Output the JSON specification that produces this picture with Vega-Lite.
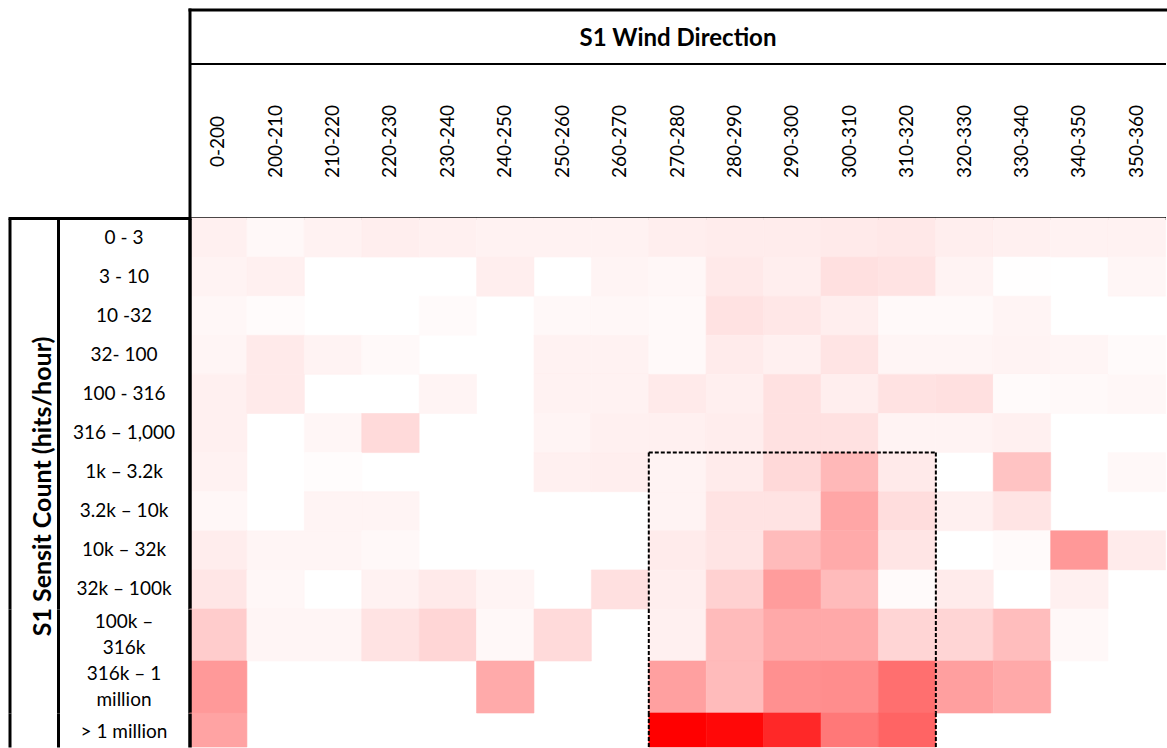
{
  "$schema": "https://vega.github.io/schema/vega-lite/v6.json",
  "background": "white",
  "padding": {"left": 6.5, "top": 7, "right": 0, "bottom": 0},
  "spacing": 0,
  "bounds": "flush",
  "config": {"font": "Lato", "view": {"stroke": null}, "axis": {"grid": false}},
  "datasets": {
    "top": [
      {"dir":"0-200","cnt":"0 - 3","pct":5.9},{"dir":"200-210","cnt":"0 - 3","pct":2.7},{"dir":"210-220","cnt":"0 - 3","pct":5.1},{"dir":"220-230","cnt":"0 - 3","pct":6.7},{"dir":"230-240","cnt":"0 - 3","pct":5.9},{"dir":"240-250","cnt":"0 - 3","pct":5.1},{"dir":"250-260","cnt":"0 - 3","pct":5.1},{"dir":"260-270","cnt":"0 - 3","pct":5.1},{"dir":"270-280","cnt":"0 - 3","pct":6.7},{"dir":"280-290","cnt":"0 - 3","pct":7.5},{"dir":"290-300","cnt":"0 - 3","pct":7.5},{"dir":"300-310","cnt":"0 - 3","pct":8.2},{"dir":"310-320","cnt":"0 - 3","pct":9.0},{"dir":"320-330","cnt":"0 - 3","pct":6.7},{"dir":"330-340","cnt":"0 - 3","pct":5.9},{"dir":"340-350","cnt":"0 - 3","pct":5.1},{"dir":"350-360","cnt":"0 - 3","pct":5.1},
      {"dir":"0-200","cnt":"3 - 10","pct":4.7},{"dir":"200-210","cnt":"3 - 10","pct":5.9},{"dir":"240-250","cnt":"3 - 10","pct":6.7},{"dir":"260-270","cnt":"3 - 10","pct":4.3},{"dir":"270-280","cnt":"3 - 10","pct":3.1},{"dir":"280-290","cnt":"3 - 10","pct":8.6},{"dir":"290-300","cnt":"3 - 10","pct":6.7},{"dir":"300-310","cnt":"3 - 10","pct":12.2},{"dir":"310-320","cnt":"3 - 10","pct":11.0},{"dir":"320-330","cnt":"3 - 10","pct":4.7},{"dir":"330-340","cnt":"3 - 10","pct":0.5},{"dir":"350-360","cnt":"3 - 10","pct":3.5},
      {"dir":"0-200","cnt":"10 -32","pct":3.1},{"dir":"200-210","cnt":"10 -32","pct":1.6},{"dir":"230-240","cnt":"10 -32","pct":2.0},{"dir":"250-260","cnt":"10 -32","pct":2.7},{"dir":"260-270","cnt":"10 -32","pct":3.1},{"dir":"270-280","cnt":"10 -32","pct":2.4},{"dir":"280-290","cnt":"10 -32","pct":11.4},{"dir":"290-300","cnt":"10 -32","pct":9.4},{"dir":"300-310","cnt":"10 -32","pct":6.7},{"dir":"310-320","cnt":"10 -32","pct":2.4},{"dir":"320-330","cnt":"10 -32","pct":2.4},{"dir":"330-340","cnt":"10 -32","pct":4.3},
      {"dir":"0-200","cnt":"32- 100","pct":3.9},{"dir":"200-210","cnt":"32- 100","pct":8.2},{"dir":"210-220","cnt":"32- 100","pct":4.7},{"dir":"220-230","cnt":"32- 100","pct":2.4},{"dir":"250-260","cnt":"32- 100","pct":5.1},{"dir":"260-270","cnt":"32- 100","pct":5.1},{"dir":"270-280","cnt":"32- 100","pct":2.4},{"dir":"280-290","cnt":"32- 100","pct":7.8},{"dir":"290-300","cnt":"32- 100","pct":5.9},{"dir":"300-310","cnt":"32- 100","pct":10.6},{"dir":"310-320","cnt":"32- 100","pct":3.9},{"dir":"320-330","cnt":"32- 100","pct":3.9},{"dir":"330-340","cnt":"32- 100","pct":4.7},{"dir":"340-350","cnt":"32- 100","pct":3.9},{"dir":"350-360","cnt":"32- 100","pct":2.0},
      {"dir":"0-200","cnt":"100 - 316","pct":5.9},{"dir":"200-210","cnt":"100 - 316","pct":8.2},{"dir":"230-240","cnt":"100 - 316","pct":4.3},{"dir":"250-260","cnt":"100 - 316","pct":5.1},{"dir":"260-270","cnt":"100 - 316","pct":5.1},{"dir":"270-280","cnt":"100 - 316","pct":8.2},{"dir":"280-290","cnt":"100 - 316","pct":6.3},{"dir":"290-300","cnt":"100 - 316","pct":11.8},{"dir":"300-310","cnt":"100 - 316","pct":6.7},{"dir":"310-320","cnt":"100 - 316","pct":11.4},{"dir":"320-330","cnt":"100 - 316","pct":12.2},{"dir":"330-340","cnt":"100 - 316","pct":2.0},{"dir":"340-350","cnt":"100 - 316","pct":2.4},{"dir":"350-360","cnt":"100 - 316","pct":3.1},
      {"dir":"0-200","cnt":"316 – 1,000","pct":5.9},{"dir":"210-220","cnt":"316 – 1,000","pct":3.5},{"dir":"220-230","cnt":"316 – 1,000","pct":14.5},{"dir":"250-260","cnt":"316 – 1,000","pct":4.3},{"dir":"260-270","cnt":"316 – 1,000","pct":5.9},{"dir":"270-280","cnt":"316 – 1,000","pct":5.9},{"dir":"280-290","cnt":"316 – 1,000","pct":7.1},{"dir":"290-300","cnt":"316 – 1,000","pct":11.8},{"dir":"300-310","cnt":"316 – 1,000","pct":11.8},{"dir":"310-320","cnt":"316 – 1,000","pct":4.7},{"dir":"320-330","cnt":"316 – 1,000","pct":4.7},{"dir":"330-340","cnt":"316 – 1,000","pct":5.9},
      {"dir":"0-200","cnt":"1k – 3.2k","pct":5.1},{"dir":"210-220","cnt":"1k – 3.2k","pct":1.2},{"dir":"250-260","cnt":"1k – 3.2k","pct":5.9},{"dir":"260-270","cnt":"1k – 3.2k","pct":6.7},{"dir":"270-280","cnt":"1k – 3.2k","pct":4.7},{"dir":"280-290","cnt":"1k – 3.2k","pct":7.8},{"dir":"290-300","cnt":"1k – 3.2k","pct":14.9},{"dir":"300-310","cnt":"1k – 3.2k","pct":27.8},{"dir":"310-320","cnt":"1k – 3.2k","pct":8.2},{"dir":"330-340","cnt":"1k – 3.2k","pct":23.5},{"dir":"350-360","cnt":"1k – 3.2k","pct":2.7},
      {"dir":"0-200","cnt":"3.2k – 10k","pct":3.1},{"dir":"210-220","cnt":"3.2k – 10k","pct":4.3},{"dir":"220-230","cnt":"3.2k – 10k","pct":4.3},{"dir":"270-280","cnt":"3.2k – 10k","pct":4.7},{"dir":"280-290","cnt":"3.2k – 10k","pct":11.0},{"dir":"290-300","cnt":"3.2k – 10k","pct":11.0},{"dir":"300-310","cnt":"3.2k – 10k","pct":34.9},{"dir":"310-320","cnt":"3.2k – 10k","pct":13.3},{"dir":"320-330","cnt":"3.2k – 10k","pct":5.9},{"dir":"330-340","cnt":"3.2k – 10k","pct":10.6},
      {"dir":"0-200","cnt":"10k – 32k","pct":7.1},{"dir":"200-210","cnt":"10k – 32k","pct":3.9},{"dir":"210-220","cnt":"10k – 32k","pct":3.9},{"dir":"220-230","cnt":"10k – 32k","pct":2.7},{"dir":"270-280","cnt":"10k – 32k","pct":7.8},{"dir":"280-290","cnt":"10k – 32k","pct":10.6},{"dir":"290-300","cnt":"10k – 32k","pct":26.7},{"dir":"300-310","cnt":"10k – 32k","pct":33.3},{"dir":"310-320","cnt":"10k – 32k","pct":10.2},{"dir":"330-340","cnt":"10k – 32k","pct":2.0},{"dir":"340-350","cnt":"10k – 32k","pct":40.4},{"dir":"350-360","cnt":"10k – 32k","pct":7.8},
      {"dir":"0-200","cnt":"32k – 100k","pct":9.8},{"dir":"200-210","cnt":"32k – 100k","pct":3.1},{"dir":"220-230","cnt":"32k – 100k","pct":5.1},{"dir":"230-240","cnt":"32k – 100k","pct":8.2},{"dir":"240-250","cnt":"32k – 100k","pct":4.3},{"dir":"260-270","cnt":"32k – 100k","pct":12.2},{"dir":"270-280","cnt":"32k – 100k","pct":6.7},{"dir":"280-290","cnt":"32k – 100k","pct":18.0},{"dir":"290-300","cnt":"32k – 100k","pct":38.8},{"dir":"300-310","cnt":"32k – 100k","pct":26.7},{"dir":"310-320","cnt":"32k – 100k","pct":2.0},{"dir":"320-330","cnt":"32k – 100k","pct":7.8},{"dir":"340-350","cnt":"32k – 100k","pct":5.9}
    ],
    "mid": [
      {"dir":"0-200","cnt":"100k – 316k","pct":20.0},{"dir":"200-210","cnt":"100k – 316k","pct":3.9},{"dir":"210-220","cnt":"100k – 316k","pct":3.9},{"dir":"220-230","cnt":"100k – 316k","pct":11.0},{"dir":"230-240","cnt":"100k – 316k","pct":16.1},{"dir":"240-250","cnt":"100k – 316k","pct":2.7},{"dir":"250-260","cnt":"100k – 316k","pct":14.5},{"dir":"270-280","cnt":"100k – 316k","pct":5.9},{"dir":"280-290","cnt":"100k – 316k","pct":26.7},{"dir":"290-300","cnt":"100k – 316k","pct":33.7},{"dir":"300-310","cnt":"100k – 316k","pct":33.7},{"dir":"310-320","cnt":"100k – 316k","pct":16.5},{"dir":"320-330","cnt":"100k – 316k","pct":16.5},{"dir":"330-340","cnt":"100k – 316k","pct":25.9},{"dir":"340-350","cnt":"100k – 316k","pct":2.7},
      {"dir":"0-200","cnt":"316k – 1 million","pct":40.0},{"dir":"240-250","cnt":"316k – 1 million","pct":33.3},{"dir":"270-280","cnt":"316k – 1 million","pct":37.3},{"dir":"280-290","cnt":"316k – 1 million","pct":26.7},{"dir":"290-300","cnt":"316k – 1 million","pct":43.5},{"dir":"300-310","cnt":"316k – 1 million","pct":44.7},{"dir":"310-320","cnt":"316k – 1 million","pct":56.5},{"dir":"320-330","cnt":"316k – 1 million","pct":37.6},{"dir":"330-340","cnt":"316k – 1 million","pct":33.7}
    ],
    "bot": [
      {"dir":"0-200","cnt":"> 1 million","pct":36.0},{"dir":"270-280","cnt":"> 1 million","pct":100},{"dir":"280-290","cnt":"> 1 million","pct":96.9},{"dir":"290-300","cnt":"> 1 million","pct":84.3},{"dir":"300-310","cnt":"> 1 million","pct":52.9},{"dir":"310-320","cnt":"> 1 million","pct":60.8}
    ],
    "boxtop": [{"from":"270-280","to":"320-330","row":"1k – 3.2k"}],
    "boxsides": [{"edge":"270-280","from":"1k – 3.2k","to":"32k – 100k"},{"edge":"320-330","from":"1k – 3.2k","to":"32k – 100k"}],
    "edges": [{"edge":"270-280"},{"edge":"320-330"}]
  },
  "vconcat": [
    {
      "width": 976, "height": 391,
      "resolve": {"axis": {"x": "independent", "y": "independent"}},
      "layer": [
        {
          "data": {"name": "top"},
          "mark": {"type": "rect", "strokeWidth": 0.6},
          "encoding": {
            "x": {"field": "dir", "type": "nominal", "scale": {"type": "band", "domain": ["0-200","200-210","210-220","220-230","230-240","240-250","250-260","260-270","270-280","280-290","290-300","300-310","310-320","320-330","330-340","340-350","350-360"], "paddingInner": 0, "paddingOuter": 0},
              "axis": {"orient": "top", "domain": false, "ticks": false, "tickSize": 0, "labelAngle": -90, "labelAlign": "center", "labelBaseline": "middle", "labelPadding": 77, "labelFontSize": 19, "labelColor": "black", "labelOverlap": false, "title": null}},
            "y": {"field": "cnt", "type": "nominal", "scale": {"type": "band", "domain": ["0 - 3","3 - 10","10 -32","32- 100","100 - 316","316 – 1,000","1k – 3.2k","3.2k – 10k","10k – 32k","32k – 100k"], "paddingInner": 0, "paddingOuter": 0},
              "axis": {"orient": "left", "domain": true, "domainColor": "black", "domainWidth": 3.5, "ticks": false, "tickSize": 0, "labelAlign": "center", "labelBaseline": "middle", "labelPadding": 66, "labelFontSize": 19, "labelColor": "black", "labelOverlap": false, "title": null}},
            "color": {"field": "pct", "type": "quantitative", "scale": {"domain": [0, 100], "range": ["#ffffff", "#ff0000"], "interpolate": "rgb"}, "legend": null},
            "stroke": {"field": "pct", "type": "quantitative", "scale": {"domain": [0, 100], "range": ["#ffffff", "#ff0000"], "interpolate": "rgb"}, "legend": null}
          }
        },
        {
          "data": {"name": "boxtop"},
          "mark": {"type": "rule", "color": "black", "strokeWidth": 2, "strokeDash": [4, 2]},
          "encoding": {
            "x": {"field": "from", "type": "nominal", "bandPosition": 0, "scale": {"type": "band", "domain": ["0-200","200-210","210-220","220-230","230-240","240-250","250-260","260-270","270-280","280-290","290-300","300-310","310-320","320-330","330-340","340-350","350-360"], "paddingInner": 0, "paddingOuter": 0},
              "axis": {"orient": "top", "domain": true, "domainColor": "black", "domainWidth": 3, "ticks": true, "tickColor": "black", "tickWidth": 3, "tickCap": "square", "tickSize": 208.5, "tickBand": "center", "tickOffset": -28.71, "values": ["0-200"], "labels": false, "title": null}},
            "x2": {"field": "to", "bandPosition": 0},
            "y": {"field": "row", "type": "nominal", "bandPosition": 0, "scale": {"type": "band", "domain": ["0 - 3","3 - 10","10 -32","32- 100","100 - 316","316 – 1,000","1k – 3.2k","3.2k – 10k","10k – 32k","32k – 100k"], "paddingInner": 0, "paddingOuter": 0},
              "axis": {"orient": "left", "offset": 131.5, "domain": true, "domainColor": "black", "domainWidth": 3, "ticks": false, "labels": false, "title": "S1 Sensit Count (hits/hour)", "titleFontSize": 25, "titleFontWeight": "bold", "titleColor": "black", "titleBaseline": "alphabetic", "titlePadding": 8, "titleY": 268}}
          }
        },
        {
          "data": {"name": "boxsides"},
          "mark": {"type": "rule", "color": "black", "strokeWidth": 2, "strokeDash": [4, 2]},
          "encoding": {
            "x": {"field": "edge", "type": "nominal", "bandPosition": 0, "scale": {"type": "band", "domain": ["0-200","200-210","210-220","220-230","230-240","240-250","250-260","260-270","270-280","280-290","290-300","300-310","310-320","320-330","330-340","340-350","350-360"], "paddingInner": 0, "paddingOuter": 0},
              "axis": {"orient": "top", "offset": 154.5, "domain": true, "domainColor": "black", "domainWidth": 2, "ticks": false, "labels": false, "title": "S1 Wind Direction", "titleFontSize": 24, "titleFontWeight": "bold", "titleColor": "black", "titleBaseline": "middle", "titlePadding": 25}},
            "y": {"field": "from", "type": "nominal", "bandPosition": 0, "scale": {"type": "band", "domain": ["0 - 3","3 - 10","10 -32","32- 100","100 - 316","316 – 1,000","1k – 3.2k","3.2k – 10k","10k – 32k","32k – 100k"], "paddingInner": 0, "paddingOuter": 0},
              "axis": {"orient": "left", "offset": 180, "domain": true, "domainColor": "black", "domainWidth": 3, "ticks": false, "labels": false, "title": null}},
            "y2": {"field": "to", "bandPosition": 1}
          }
        },
        {
          "data": {"name": "top"},
          "mark": {"type": "rect", "opacity": 0},
          "encoding": {
            "x": {"field": "dir", "type": "nominal", "scale": {"type": "band", "domain": ["0-200","200-210","210-220","220-230","230-240","240-250","250-260","260-270","270-280","280-290","290-300","300-310","310-320","320-330","330-340","340-350","350-360"], "paddingInner": 0, "paddingOuter": 0},
              "axis": {"orient": "top", "offset": 208.5, "domain": true, "domainColor": "black", "domainWidth": 3, "domainCap": "square", "ticks": false, "labels": false, "title": null}},
            "y": {"field": "cnt", "type": "nominal", "scale": {"type": "band", "domain": ["0 - 3","3 - 10","10 -32","32- 100","100 - 316","316 – 1,000","1k – 3.2k","3.2k – 10k","10k – 32k","32k – 100k"], "paddingInner": 0, "paddingOuter": 0},
              "axis": {"orient": "left", "domain": false, "ticks": true, "tickColor": "black", "tickWidth": 3, "tickCap": "square", "tickSize": 180, "tickBand": "center", "tickOffset": -19.55, "values": ["0 - 3"], "labels": false, "title": null}}
          }
        }
      ]
    },
    {
      "width": 976, "height": 104,
      "resolve": {"axis": {"x": "independent", "y": "independent"}},
      "layer": [
        {
          "data": {"name": "mid"},
          "mark": {"type": "rect", "strokeWidth": 0.6},
          "encoding": {
            "x": {"field": "dir", "type": "nominal", "scale": {"type": "band", "domain": ["0-200","200-210","210-220","220-230","230-240","240-250","250-260","260-270","270-280","280-290","290-300","300-310","310-320","320-330","330-340","340-350","350-360"], "paddingInner": 0, "paddingOuter": 0}, "axis": null},
            "y": {"field": "cnt", "type": "nominal", "scale": {"type": "band", "domain": ["100k – 316k","316k – 1 million"], "paddingInner": 0, "paddingOuter": 0},
              "axis": {"orient": "left", "domain": true, "domainColor": "black", "domainWidth": 3.5, "ticks": false, "tickSize": 0, "labelAlign": "center", "labelBaseline": "middle", "labelPadding": 66, "labelOffset": -13, "labelFontSize": 19, "labelColor": "black", "labelOverlap": false, "labelLineHeight": 26, "labelExpr": "datum.label == '100k – 316k' ? ['100k –', '316k'] : (datum.label == '316k – 1 million' ? ['316k – 1', 'million'] : datum.label)", "title": null}},
            "color": {"field": "pct", "type": "quantitative", "scale": {"domain": [0, 100], "range": ["#ffffff", "#ff0000"], "interpolate": "rgb"}, "legend": null},
            "stroke": {"field": "pct", "type": "quantitative", "scale": {"domain": [0, 100], "range": ["#ffffff", "#ff0000"], "interpolate": "rgb"}, "legend": null}
          }
        },
        {
          "data": {"name": "edges"},
          "mark": {"type": "rule", "color": "black", "strokeWidth": 2, "strokeDash": [4, 2]},
          "encoding": {
            "x": {"field": "edge", "type": "nominal", "bandPosition": 0, "scale": {"type": "band", "domain": ["0-200","200-210","210-220","220-230","230-240","240-250","250-260","260-270","270-280","280-290","290-300","300-310","310-320","320-330","330-340","340-350","350-360"], "paddingInner": 0, "paddingOuter": 0}, "axis": null}
          }
        },
        {
          "data": {"name": "mid"},
          "mark": {"type": "rect", "opacity": 0},
          "encoding": {
            "x": {"field": "dir", "type": "nominal", "scale": {"type": "band", "domain": ["0-200","200-210","210-220","220-230","230-240","240-250","250-260","260-270","270-280","280-290","290-300","300-310","310-320","320-330","330-340","340-350","350-360"], "paddingInner": 0, "paddingOuter": 0}, "axis": null},
            "y": {"field": "cnt", "type": "nominal", "scale": {"type": "band", "domain": ["100k – 316k","316k – 1 million"], "paddingInner": 0, "paddingOuter": 0},
              "axis": {"orient": "left", "offset": 131.5, "domain": true, "domainColor": "black", "domainWidth": 3, "ticks": false, "labels": false, "title": null}}
          }
        },
        {
          "data": {"name": "mid"},
          "mark": {"type": "rect", "opacity": 0},
          "encoding": {
            "x": {"field": "dir", "type": "nominal", "scale": {"type": "band", "domain": ["0-200","200-210","210-220","220-230","230-240","240-250","250-260","260-270","270-280","280-290","290-300","300-310","310-320","320-330","330-340","340-350","350-360"], "paddingInner": 0, "paddingOuter": 0}, "axis": null},
            "y": {"field": "cnt", "type": "nominal", "scale": {"type": "band", "domain": ["100k – 316k","316k – 1 million"], "paddingInner": 0, "paddingOuter": 0},
              "axis": {"orient": "left", "offset": 180, "domain": true, "domainColor": "black", "domainWidth": 3, "ticks": false, "labels": false, "title": null}}
          }
        }
      ]
    },
    {
      "width": 976, "height": 34,
      "resolve": {"axis": {"x": "independent", "y": "independent"}},
      "layer": [
        {
          "data": {"name": "bot"},
          "mark": {"type": "rect", "strokeWidth": 0.6},
          "encoding": {
            "x": {"field": "dir", "type": "nominal", "scale": {"type": "band", "domain": ["0-200","200-210","210-220","220-230","230-240","240-250","250-260","260-270","270-280","280-290","290-300","300-310","310-320","320-330","330-340","340-350","350-360"], "paddingInner": 0, "paddingOuter": 0}, "axis": null},
            "y": {"field": "cnt", "type": "nominal", "scale": {"type": "band", "domain": ["> 1 million"], "paddingInner": 0, "paddingOuter": 0},
              "axis": {"orient": "left", "domain": true, "domainColor": "black", "domainWidth": 3.5, "ticks": false, "tickSize": 0, "labelAlign": "center", "labelBaseline": "middle", "labelPadding": 66, "labelOffset": 2, "labelFontSize": 19, "labelColor": "black", "labelOverlap": false, "title": null}},
            "color": {"field": "pct", "type": "quantitative", "scale": {"domain": [0, 100], "range": ["#ffffff", "#ff0000"], "interpolate": "rgb"}, "legend": null},
            "stroke": {"field": "pct", "type": "quantitative", "scale": {"domain": [0, 100], "range": ["#ffffff", "#ff0000"], "interpolate": "rgb"}, "legend": null}
          }
        },
        {
          "data": {"name": "edges"},
          "mark": {"type": "rule", "color": "black", "strokeWidth": 2, "strokeDash": [4, 2]},
          "encoding": {
            "x": {"field": "edge", "type": "nominal", "bandPosition": 0, "scale": {"type": "band", "domain": ["0-200","200-210","210-220","220-230","230-240","240-250","250-260","260-270","270-280","280-290","290-300","300-310","310-320","320-330","330-340","340-350","350-360"], "paddingInner": 0, "paddingOuter": 0}, "axis": null}
          }
        },
        {
          "data": {"name": "bot"},
          "mark": {"type": "rect", "opacity": 0},
          "encoding": {
            "x": {"field": "dir", "type": "nominal", "scale": {"type": "band", "domain": ["0-200","200-210","210-220","220-230","230-240","240-250","250-260","260-270","270-280","280-290","290-300","300-310","310-320","320-330","330-340","340-350","350-360"], "paddingInner": 0, "paddingOuter": 0}, "axis": null},
            "y": {"field": "cnt", "type": "nominal", "scale": {"type": "band", "domain": ["> 1 million"], "paddingInner": 0, "paddingOuter": 0},
              "axis": {"orient": "left", "offset": 131.5, "domain": true, "domainColor": "black", "domainWidth": 3, "ticks": false, "labels": false, "title": null}}
          }
        },
        {
          "data": {"name": "bot"},
          "mark": {"type": "rect", "opacity": 0},
          "encoding": {
            "x": {"field": "dir", "type": "nominal", "scale": {"type": "band", "domain": ["0-200","200-210","210-220","220-230","230-240","240-250","250-260","260-270","270-280","280-290","290-300","300-310","310-320","320-330","330-340","340-350","350-360"], "paddingInner": 0, "paddingOuter": 0}, "axis": null},
            "y": {"field": "cnt", "type": "nominal", "scale": {"type": "band", "domain": ["> 1 million"], "paddingInner": 0, "paddingOuter": 0},
              "axis": {"orient": "left", "offset": 180, "domain": true, "domainColor": "black", "domainWidth": 3, "ticks": false, "labels": false, "title": null}}
          }
        }
      ]
    }
  ]
}
